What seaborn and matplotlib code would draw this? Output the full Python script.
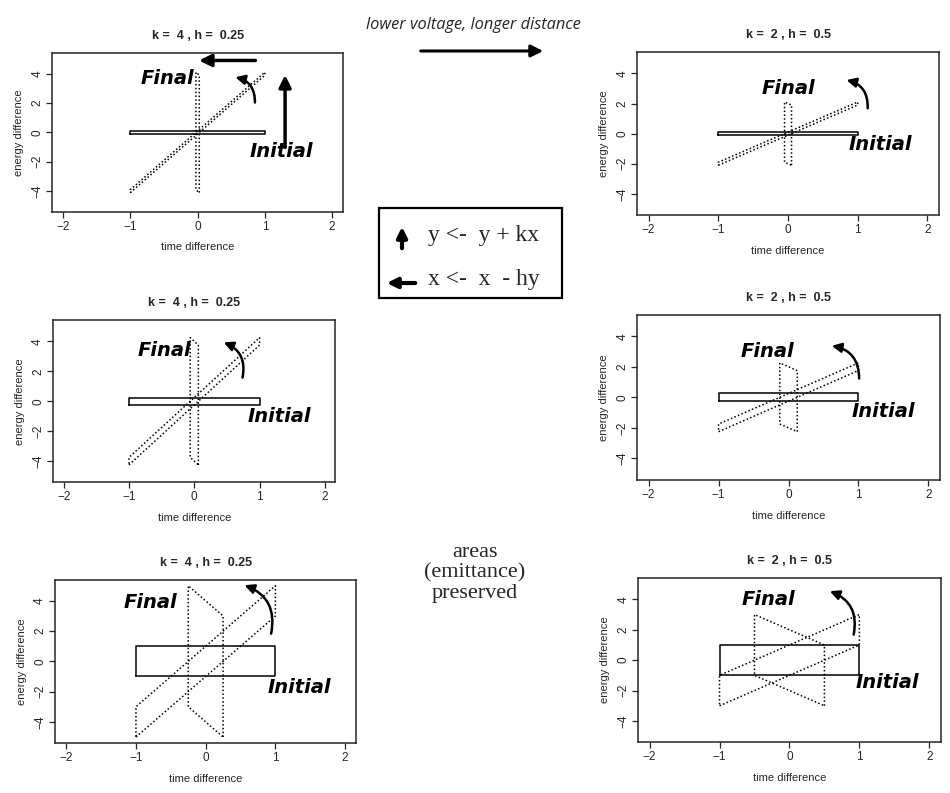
import numpy as np
import pandas as pd
import matplotlib
matplotlib.use("Agg")
import matplotlib.pyplot as plt
import seaborn as sns

#### values
k_vals = [4, 2]                 # left column, right column
h_vals = [0.25, 0.5]
half_heights = [0.1, 0.25, 1.0]  # initial rectangle half height per row
rect_x = [-1, 1, 1, -1, -1]
rect_sign = [-1, -1, 1, 1, -1]

x_ticks = [-2, -1, 0, 1, 2]
y_ticks = [-4, -2, 0, 2, 4]

# handwritten notes (data coords) per panel (row, col)
final_pos = {(0, 0): (-0.45, 3.7), (0, 1): (0.0, 3.0), (1, 0): (-0.45, 3.4),
             (1, 1): (-0.3, 3.0), (2, 0): (-0.8, 3.9), (2, 1): (-0.3, 4.0)}
initial_pos = {(0, 0): (1.25, -1.3), (0, 1): (1.33, -0.7), (1, 0): (1.3, -1.0),
               (1, 1): (1.35, -0.95), (2, 0): (1.35, -1.7), (2, 1): (1.4, -1.5)}
curl_from = {(0, 0): (0.85, 1.85), (0, 1): (1.14, 1.5), (1, 0): (0.73, 1.4),
             (1, 1): (1.01, 1.05), (2, 0): (0.93, 1.65), (2, 1): (0.91, 1.5)}
curl_to = {(0, 0): (0.52, 3.8), (0, 1): (0.8, 3.6), (1, 0): (0.41, 4.0),
           (1, 1): (0.58, 3.4), (2, 0): (0.52, 5.1), (2, 1): (0.54, 4.6)}

# axes boxes in figure fraction [left, bottom, width, height]
boxes = {(0, 0): [0.055, 0.733, 0.306, 0.200], (0, 1): [0.671, 0.729, 0.317, 0.205],
         (1, 0): [0.056, 0.392, 0.297, 0.204], (1, 1): [0.671, 0.395, 0.318, 0.208],
         (2, 0): [0.058, 0.063, 0.317, 0.206], (2, 1): [0.672, 0.064, 0.318, 0.207]}


def shear_shapes(w, k, h):
    """initial rectangle, after y <- y + kx, after x <- x - hy"""
    x0 = np.array(rect_x, float)
    y0 = w * np.array(rect_sign, float)
    y1 = y0 + k * x0
    x2 = x0 - h * y1
    parts = []
    for stage, xs, ys in [("initial", x0, y0), ("sheared", x0, y1), ("final", x2, y1)]:
        parts.append(pd.DataFrame({"x": xs, "y": ys, "stage": stage, "order": range(len(xs))}))
    return pd.concat(parts, ignore_index=True)


sns.set_style("ticks")
plt.rcParams["font.family"] = ["Liberation Sans", "DejaVu Sans"]
fig = plt.figure(figsize=(9.5, 7.93), dpi=100)

hand = dict(fontsize=14, fontstyle="italic", fontweight="bold", family="DejaVu Sans", color="black")

for (r, c), box in boxes.items():
    k, h, w = k_vals[c], h_vals[c], half_heights[r]
    ax = fig.add_axes(box)
    df = shear_shapes(w, k, h)
    sns.lineplot(data=df, x="x", y="y", units="stage", style="stage", estimator=None,
                 sort=False, color="black", lw=1.1, legend=False, ax=ax,
                 dashes={"initial": "", "sheared": (1, 1.5), "final": (1, 1.5)})
    ax.set_xlim(-2.16, 2.16)
    ax.set_ylim(-5.4, 5.4)
    ax.set_xticks(x_ticks)
    ax.set_yticks(y_ticks)
    ax.set_yticklabels([str(v).replace("-", "\u2212") for v in y_ticks], rotation=90, va="center")
    ax.tick_params(labelsize=8.5, length=4.5, width=0.9, pad=2)
    for sp in ax.spines.values():
        sp.set_linewidth(1.1)
        sp.set_visible(True)
    ax.set_xlabel("time difference", fontsize=8, labelpad=7)
    ax.set_ylabel("energy difference", fontsize=8, labelpad=5)
    ax.set_title(f"k =  {k} , h =  {h}", fontsize=9, fontweight="bold", pad=10)

    ax.text(*final_pos[(r, c)], "Final", ha="center", va="center", **hand)
    ax.text(*initial_pos[(r, c)], "Initial", ha="center", va="center", **hand)
    ax.annotate("", xy=curl_to[(r, c)], xytext=curl_from[(r, c)],
                arrowprops=dict(arrowstyle="-|>", lw=1.8, color="black",
                                connectionstyle="arc3,rad=0.45", mutation_scale=14))

    if (r, c) == (0, 0):
        ax.annotate("", xy=(1.3, 4.1), xytext=(1.3, -1.2),
                    arrowprops=dict(arrowstyle="-|>", lw=2.5, color="black", mutation_scale=18))
        ax.annotate("", xy=(-0.02, 4.9), xytext=(0.9, 4.9),
                    arrowprops=dict(arrowstyle="-|>", lw=2.5, color="black", mutation_scale=18),
                    annotation_clip=False)

# middle column notes
fig.text(473 / 950, 1 - 25 / 793, "lower voltage, longer distance", ha="center", va="center",
         fontsize=11.8, fontstyle="italic", family="Open Sans")
fig.add_artist(matplotlib.patches.FancyArrowPatch((418 / 950, 1 - 51 / 793), (546 / 950, 1 - 51 / 793),
                                                  transform=fig.transFigure, arrowstyle="-|>",
                                                  lw=2.2, color="black", mutation_scale=18))

fig.add_artist(plt.Rectangle((379 / 950, 1 - 298 / 793), 183 / 950, 90 / 793,
                             transform=fig.transFigure, fill=False, lw=1.6, color="black"))
fig.add_artist(matplotlib.patches.FancyArrowPatch((402 / 950, 1 - 251 / 793), (402 / 950, 1 - 224 / 793),
                                                  transform=fig.transFigure, arrowstyle="-|>",
                                                  lw=3, color="black", mutation_scale=15))
fig.add_artist(matplotlib.patches.FancyArrowPatch((418 / 950, 1 - 283 / 793), (384 / 950, 1 - 283 / 793),
                                                  transform=fig.transFigure, arrowstyle="-|>",
                                                  lw=3, color="black", mutation_scale=15))
serif = dict(family="Liberation Serif", fontsize=17, va="center", ha="left")
fig.text(428 / 950, 1 - 236 / 793, "y <-  y + kx", **serif)
fig.text(428 / 950, 1 - 280 / 793, "x <-  x  - hy", **serif)

fig.text(475 / 950, 1 - 573 / 793, "areas\n(emittance)\npreserved", ha="center", va="center",
         family="Liberation Serif", fontsize=16, linespacing=1.1)

fig.savefig("out.png", dpi=100)
